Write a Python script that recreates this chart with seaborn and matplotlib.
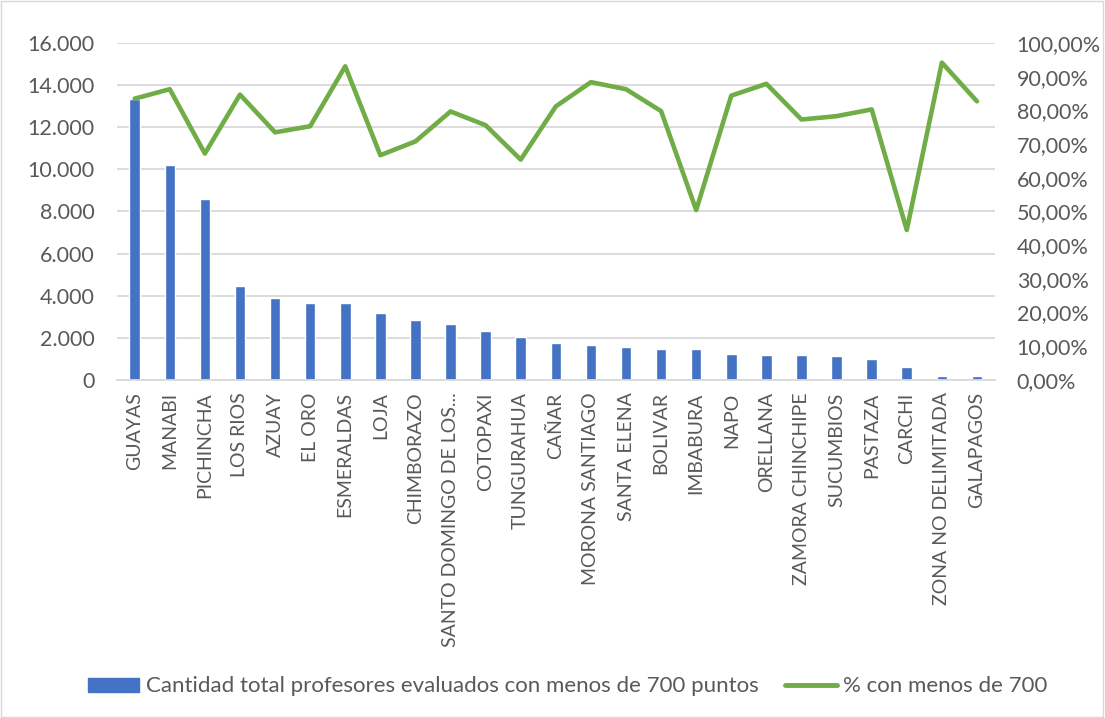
import numpy as np
import pandas as pd
import matplotlib
matplotlib.use("Agg")
import matplotlib.pyplot as plt
import matplotlib.ticker as mticker
from matplotlib.lines import Line2D
from matplotlib.patches import Patch
import seaborn as sns

# Data
provincias = ["GUAYAS", "MANABI", "PICHINCHA", "LOS RIOS", "AZUAY", "EL ORO",
              "ESMERALDAS", "LOJA", "CHIMBORAZO", "SANTO DOMINGO DE LOS...",
              "COTOPAXI", "TUNGURAHUA", "CAÑAR", "MORONA SANTIAGO", "SANTA ELENA",
              "BOLIVAR", "IMBABURA", "NAPO", "ORELLANA", "ZAMORA CHINCHIPE",
              "SUCUMBIOS", "PASTAZA", "CARCHI", "ZONA NO DELIMITADA", "GALAPAGOS"]
cantidad = [13330, 10200, 8590, 4480, 3910, 3670, 3640, 3165, 2830, 2640,
            2330, 2030, 1740, 1660, 1550, 1470, 1470, 1220, 1170, 1170,
            1125, 1000, 600, 160, 170]
porcentaje = [83.5, 86.3, 67.2, 84.7, 73.5, 75.3, 93.1, 66.7, 70.8, 79.7,
              75.6, 65.4, 81.2, 88.4, 86.3, 79.8, 50.4, 84.4, 87.9, 77.3,
              78.3, 80.3, 44.5, 94.2, 82.7]

bar_label = "Cantidad total profesores evaluados con menos de 700 puntos"
line_label = "% con menos de 700"

df = pd.DataFrame({"provincia": provincias, "cantidad": cantidad,
                   "pct": porcentaje, "pos": np.arange(len(provincias))})

sns.set_style("white")
plt.rcParams["font.family"] = ["Lato", "DejaVu Sans"]

gray = "#595959"
blue = "#4472C4"
green = "#70AD47"

fig = plt.figure(figsize=(11.05, 7.18), dpi=100)
ax = fig.add_axes([0.106, 0.471, 0.794, 0.469])

sns.barplot(data=df, x="provincia", y="cantidad", color=blue,
            width=0.3, saturation=1, ax=ax)
ax.set_ylim(0, 16000)
ax.set_xlim(-0.5, len(provincias) - 0.5)
ax.yaxis.set_major_locator(mticker.MultipleLocator(2000))
ax.yaxis.set_major_formatter(mticker.FuncFormatter(
    lambda v, p: f"{int(v):,}".replace(",", ".")))
ax.grid(axis="y", color="#D9D9D9", linewidth=1.3)
ax.set_axisbelow(True)
ax.set_xlabel("")
ax.set_ylabel("")
for s in ["top", "right", "left"]:
    ax.spines[s].set_visible(False)
ax.spines["bottom"].set_color("#D9D9D9")
ax.spines["bottom"].set_linewidth(1.3)
ax.tick_params(axis="x", labelrotation=90, colors=gray, labelsize=14, length=0, pad=9)
ax.tick_params(axis="y", colors=gray, labelsize=15.5, length=0, pad=16)

ax2 = ax.twinx()
sns.lineplot(data=df, x="pos", y="pct", color=green, linewidth=3.3, ax=ax2)
ax2.set_ylim(0, 100)
ax2.set_xlim(-0.5, len(provincias) - 0.5)
ax2.yaxis.set_major_locator(mticker.MultipleLocator(10))
ax2.yaxis.set_major_formatter(mticker.FuncFormatter(
    lambda v, p: f"{v:.2f}".replace(".", ",") + "%"))
ax2.set_ylabel("")
ax2.set_xlabel("")
for s in ["top", "right", "left", "bottom"]:
    ax2.spines[s].set_visible(False)
ax2.tick_params(axis="y", colors=gray, labelsize=15.5, length=0, pad=16)

handles = [Patch(color=blue, label=bar_label),
           Line2D([], [], color=green, linewidth=3.5, solid_capstyle="round",
                  label=line_label)]
fig.legend(handles=handles, loc="center", bbox_to_anchor=(0.514, 0.044), ncol=2,
           frameon=False, fontsize=16, labelcolor=gray, handlelength=2.3,
           handleheight=0.6, handletextpad=0.3, columnspacing=1.2)

fig.patches.append(plt.Rectangle((0.001, 0.001), 0.997, 0.997, transform=fig.transFigure,
                                 fill=False, edgecolor="#D9D9D9", linewidth=1))

fig.savefig("out.png", dpi=100)
